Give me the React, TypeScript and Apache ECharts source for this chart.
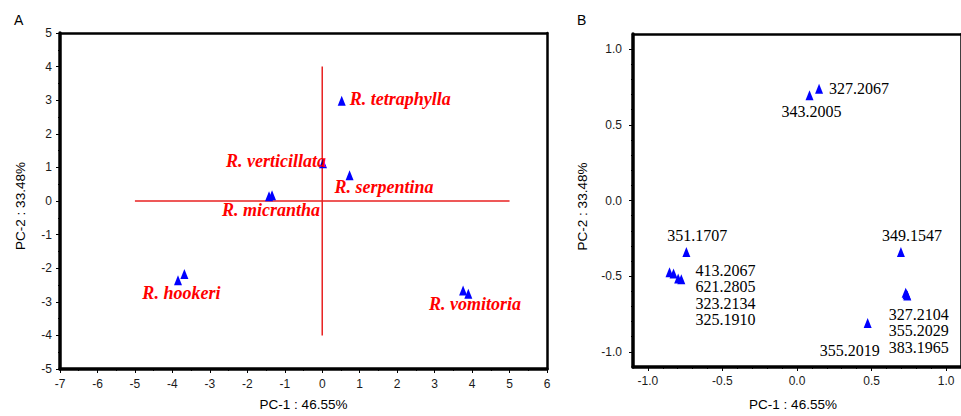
import React, { useEffect, useRef } from "react";
import * as echarts from "echarts";

// Panel A: sample scores
const aNames = [
  "R. tetraphylla",
  "R. verticillata",
  "R. serpentina",
  "R. micrantha",
  "R. micrantha",
  "R. hookeri",
  "R. hookeri",
  "R. vomitoria",
  "R. vomitoria",
];
const aPC1 = [0.52, 0.02, 0.73, -1.42, -1.34, -3.68, -3.85, 3.76, 3.9];
const aPC2 = [2.98, 1.12, 0.77, 0.14, 0.17, -2.17, -2.36, -2.66, -2.76];
const crossH = [[-5, 0], [5, 0]];
const crossV = [[0, -4], [0, 4]];

// Panel B: loadings
const bNames = [
  "327.2067",
  "343.2005",
  "351.1707",
  "413.2067",
  "621.2805",
  "323.2134",
  "325.1910",
  "349.1547",
  "327.2104",
  "355.2029",
  "383.1965",
  "355.2019",
];
const bPC1 = [0.148, 0.084, -0.742, -0.855, -0.828, -0.797, -0.776, 0.697, 0.729, 0.735, 0.74, 0.474];
const bPC2 = [0.738, 0.695, -0.341, -0.474, -0.482, -0.515, -0.521, -0.341, -0.61, -0.62, -0.628, -0.81];
const bLabelGroups = [
  ["327.2067"],
  ["343.2005"],
  ["351.1707"],
  ["413.2067", "621.2805", "323.2134", "325.1910"],
  ["349.1547"],
  ["327.2104", "355.2029", "383.1965"],
  ["355.2019"],
];
const xTitle = "PC-1 : 46.55%";
const yTitle = "PC-2 : 33.48%";
const bTickValues = [-1, -0.5, 0, 0.5, 1];
const bMinorValues = [-0.9, -0.8, -0.7, -0.6, -0.4, -0.3, -0.2, -0.1, 0.1, 0.2, 0.3, 0.4, 0.6, 0.7, 0.8, 0.9];

// label layout (styling only)
const aLabelLayout: Record<string, { align: string; offset: number[] }> = {
  "R. tetraphylla": { align: "left", offset: [8, -2] },
  "R. verticillata": { align: "right", offset: [3, -2] },
  "R. serpentina": { align: "left", offset: [-15, 12] },
  "R. micrantha": { align: "left", offset: [-47, 14] },
  "R. hookeri": { align: "left", offset: [-42, 19] },
  "R. vomitoria": { align: "left", offset: [-34, 14] },
};
const bLabelLayout: Record<string, { offset: number[]; va: string }> = {
  "327.2067": { offset: [10, 0], va: "middle" },
  "343.2005": { offset: [-28, 16], va: "middle" },
  "351.1707": { offset: [-19, -17], va: "middle" },
  "413.2067": { offset: [26, -10], va: "top" },
  "349.1547": { offset: [-19, -17], va: "middle" },
  "327.2104": { offset: [-17, 13], va: "top" },
  "355.2019": { offset: [-48, 27], va: "middle" },
};

const SANS = "'Liberation Sans', Arial, sans-serif";
const SERIF = "'Liberation Serif', 'Times New Roman', serif";
const BLUE = "#0000ff";
const RED = "#ff0000";

export default function App() {
  const ref = useRef<HTMLDivElement>(null);
  useEffect(() => {
    if (!ref.current) return;
    const chart = echarts.init(ref.current, null, { renderer: "svg" });

    const seen = new Set<string>();
    const aData = aNames.map((n, i) => {
      const item: any = { value: [aPC1[i], aPC2[i]], name: n };
      if (!seen.has(n)) {
        seen.add(n);
        const l = aLabelLayout[n];
        item.label = {
          show: true,
          position: "inside",
          formatter: n,
          align: l.align,
          verticalAlign: "middle",
          offset: l.offset,
          color: RED,
          fontFamily: SERIF,
          fontStyle: "italic",
          fontWeight: "bold",
          fontSize: 18,
        };
      }
      return item;
    });

    const bData = bNames.map((n, i) => {
      const item: any = { value: [bPC1[i], bPC2[i]], name: n };
      const g = bLabelGroups.find((grp) => grp[0] === n);
      if (g) {
        const l = bLabelLayout[n];
        item.label = {
          show: true,
          position: "inside",
          formatter: g.join("\n"),
          align: "left",
          verticalAlign: l.va,
          offset: l.offset,
          color: "#000",
          fontFamily: SERIF,
          fontSize: 16,
          lineHeight: 16.5,
        };
      }
      return item;
    });

    const tickLabel = { color: "#1a1a1a", fontSize: 12, fontFamily: SANS };
    const nameStyle = { color: "#000", fontSize: 13.5, fontFamily: SANS };
    const borderAxis = (gridIndex: number, position: string, min: number, max: number) => ({
      gridIndex,
      type: "value",
      min,
      max,
      position,
      axisLine: { show: true, onZero: false, lineStyle: { color: "#000", width: 2.5 } },
      axisTick: { show: false },
      axisLabel: { show: false },
      splitLine: { show: false },
    });

    chart.setOption({
      animation: false,
      backgroundColor: "#fff",
      grid: [
        { left: 60, top: 33, width: 487, height: 340 },
        { left: 633, top: 34, width: 342, height: 339 },
      ],
      xAxis: [
        {
          gridIndex: 0,
          type: "value",
          min: -7,
          max: 6,
          interval: 1,
          axisLine: { show: true, onZero: false, lineStyle: { color: "#000", width: 3.5 } },
          axisTick: { show: true, length: 4, lineStyle: { color: "#000" } },
          minorTick: { show: true, splitNumber: 2, length: 2, lineStyle: { color: "#000" } },
          splitLine: { show: false },
          axisLabel: { ...tickLabel, margin: 9 },
          name: xTitle,
          nameLocation: "middle",
          nameGap: 28,
          nameTextStyle: nameStyle,
        },
        {
          gridIndex: 1,
          type: "value",
          min: -1.1,
          max: 1.1,
          axisLine: { show: true, onZero: false, lineStyle: { color: "#000", width: 3.5 } },
          axisTick: { show: true, length: 4, customValues: bTickValues, lineStyle: { color: "#000" } },
          splitLine: { show: false },
          axisLabel: { ...tickLabel, margin: 8, customValues: bTickValues, formatter: (v: number) => v.toFixed(1) },
          name: xTitle,
          nameLocation: "middle",
          nameGap: 30,
          nameTextStyle: { ...nameStyle, padding: [0, 8, 0, 0] },
        },
        {
          gridIndex: 1,
          type: "value",
          min: -1.1,
          max: 1.1,
          position: "bottom",
          axisLine: { show: false, onZero: false },
          axisTick: { show: true, length: 2, customValues: bMinorValues, lineStyle: { color: "#000" } },
          splitLine: { show: false },
          axisLabel: { show: false },
        },
        borderAxis(0, "top", -7, 6),
        borderAxis(1, "top", -1.1, 1.1),
      ],
      yAxis: [
        {
          gridIndex: 0,
          type: "value",
          min: -5,
          max: 5,
          interval: 1,
          axisLine: { show: true, onZero: false, lineStyle: { color: "#000", width: 3.5 } },
          axisTick: { show: true, length: 4, lineStyle: { color: "#000" } },
          minorTick: { show: true, splitNumber: 2, length: 2, lineStyle: { color: "#000" } },
          splitLine: { show: false },
          axisLabel: { ...tickLabel, margin: 8 },
          name: yTitle,
          nameLocation: "middle",
          nameGap: 33,
          nameTextStyle: { ...nameStyle, padding: [0, 10, 0, 0] },
        },
        {
          gridIndex: 1,
          type: "value",
          min: -1.1,
          max: 1.1,
          axisLine: { show: true, onZero: false, lineStyle: { color: "#000", width: 3.5 } },
          axisTick: { show: true, length: 4, customValues: bTickValues, lineStyle: { color: "#000" } },
          splitLine: { show: false },
          axisLabel: { ...tickLabel, margin: 11, customValues: bTickValues, formatter: (v: number) => v.toFixed(1) },
          name: yTitle,
          nameLocation: "middle",
          nameGap: 44,
          nameTextStyle: { ...nameStyle, padding: [0, 12, 0, 0] },
        },
        {
          gridIndex: 1,
          type: "value",
          min: -1.1,
          max: 1.1,
          position: "left",
          axisLine: { show: false, onZero: false },
          axisTick: { show: true, length: 2, customValues: bMinorValues, lineStyle: { color: "#000" } },
          splitLine: { show: false },
          axisLabel: { show: false },
        },
        borderAxis(0, "right", -5, 5),
        borderAxis(1, "right", -1.1, 1.1),
      ],
      graphic: [
        { type: "text", left: 14, top: 13, style: { text: "A", fontSize: 14, fontFamily: SANS, fill: "#000" } },
        { type: "text", left: 577, top: 13, style: { text: "B", fontSize: 14, fontFamily: SANS, fill: "#000" } },
      ],
      series: [
        {
          type: "line",
          xAxisIndex: 0,
          yAxisIndex: 0,
          data: crossH,
          symbol: "none",
          silent: true,
          lineStyle: { color: "#e82020", width: 1.5 },
        },
        {
          type: "line",
          xAxisIndex: 0,
          yAxisIndex: 0,
          data: crossV,
          symbol: "none",
          silent: true,
          lineStyle: { color: "#e82020", width: 1.5 },
        },
        {
          type: "scatter",
          xAxisIndex: 0,
          yAxisIndex: 0,
          symbol: "triangle",
          symbolSize: [8, 10],
          itemStyle: { color: BLUE, opacity: 1 },
          data: aData,
          silent: true,
          z: 3,
        },
        {
          type: "scatter",
          xAxisIndex: 1,
          yAxisIndex: 1,
          symbol: "triangle",
          symbolSize: [8, 10],
          itemStyle: { color: BLUE, opacity: 1 },
          data: bData,
          silent: true,
          z: 3,
        },
      ],
    });
    return () => chart.dispose();
  }, []);
  return (
    <div
      ref={ref}
      style={{ position: "absolute", left: 0, top: 0, width: 961, height: 416, background: "#fff" }}
    />
  );
}
